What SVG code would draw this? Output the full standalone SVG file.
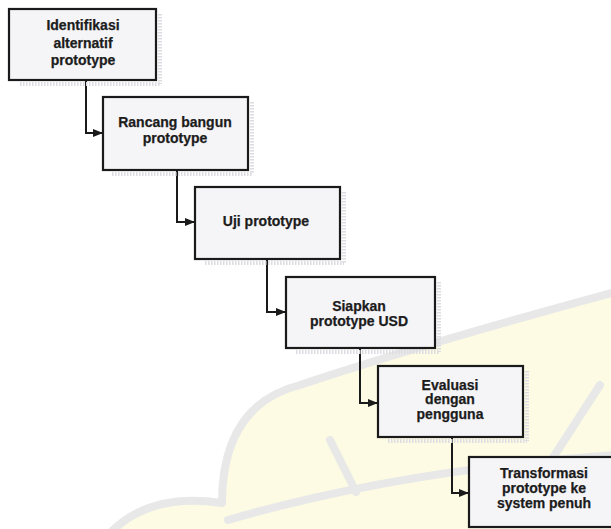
<svg xmlns="http://www.w3.org/2000/svg" width="611" height="529" viewBox="0 0 611 529">
  <defs>
    <style>
      .box { fill: #f5f4f7; stroke: #1a1a1a; stroke-width: 2.2; }
      .shade { fill: none; stroke: #dcdce2; stroke-width: 4; stroke-dasharray: 1.5 1.5; }
      .lbl { font-family: "Liberation Sans", Arial, sans-serif; font-weight: bold; font-size: 14px; fill: #1c1c1c; stroke: #1c1c1c; stroke-width: 0.25; text-anchor: middle; }
      .link { fill: none; stroke: #1a1a1a; stroke-width: 2; }
      .wm { fill: #fdfbe4; stroke: #e8e8e8; stroke-width: 8; stroke-linejoin: round; }
      .wmline { fill: none; stroke: #e8e8e8; stroke-width: 8; stroke-linecap: round; }
    </style>
    <marker id="arrow" viewBox="0 0 10 8" refX="10" refY="4" markerWidth="10" markerHeight="8" markerUnits="userSpaceOnUse" orient="auto">
      <path d="M0,0 L10,4 L0,8 Z" fill="#1a1a1a"/>
    </marker>
  </defs>

  <rect width="611" height="529" fill="#ffffff"/>

  <!-- pale background emblem -->
  <g id="emblem">
    <path class="wm" d="M110,533 Q150,492 222,503 Q222,405 300,385 Q420,345 615,292 L615,533 Z"/>
    <path class="wmline" d="M228,520 Q400,470 615,455"/>
    <path class="wmline" d="M330,440 L356,492"/>
    <path class="wmline" d="M600,385 L545,470"/>
  </g>

  <!-- connectors -->
  <g id="connectors">
    <path class="link" marker-end="url(#arrow)" d="M86,81 V133 H103"/>
    <path class="link" marker-end="url(#arrow)" d="M177,171 V222 H195"/>
    <path class="link" marker-end="url(#arrow)" d="M267,259 V312 H286"/>
    <path class="link" marker-end="url(#arrow)" d="M360,349 V403 H378"/>
    <path class="link" marker-end="url(#arrow)" d="M452,438 V493 H469"/>
  </g>

  <g id="n1">
    <path class="shade" d="M160,14 V84 M20,84 H160"/>
    <rect class="box" x="9" y="9" width="147" height="71"/>
    <text class="lbl" x="83" y="30">Identifikasi</text>
    <text class="lbl" x="83" y="47.5">alternatif</text>
    <text class="lbl" x="83" y="65">prototype</text>
  </g>

  <g id="n2">
    <path class="shade" d="M252,102 V174 M112,174 H252"/>
    <rect class="box" x="103" y="97" width="145" height="73"/>
    <text class="lbl" x="175" y="127">Rancang bangun</text>
    <text class="lbl" x="175" y="143">prototype</text>
  </g>

  <g id="n3">
    <path class="shade" d="M344,192 V263 M205,263 H344"/>
    <rect class="box" x="195" y="187" width="145" height="72"/>
    <text class="lbl" x="266" y="226">Uji prototype</text>
  </g>

  <g id="n4">
    <path class="shade" d="M439,282 V352 M296,352 H439"/>
    <rect class="box" x="286" y="277" width="149" height="71"/>
    <text class="lbl" x="359" y="311">Siapkan</text>
    <text class="lbl" x="359" y="325.5">prototype USD</text>
  </g>

  <g id="n5">
    <path class="shade" d="M527,371 V441 M388,441 H527"/>
    <rect class="box" x="378" y="366" width="145" height="71"/>
    <text class="lbl" x="450" y="389.5">Evaluasi</text>
    <text class="lbl" x="450" y="404">dengan</text>
    <text class="lbl" x="450" y="418.5">pengguna</text>
  </g>

  <g id="n6">
    <rect class="box" x="469" y="457" width="152" height="70"/>
    <text class="lbl" x="544" y="478">Transformasi</text>
    <text class="lbl" x="544" y="492.5">prototype ke</text>
    <text class="lbl" x="544" y="508">system penuh</text>
  </g>
</svg>
